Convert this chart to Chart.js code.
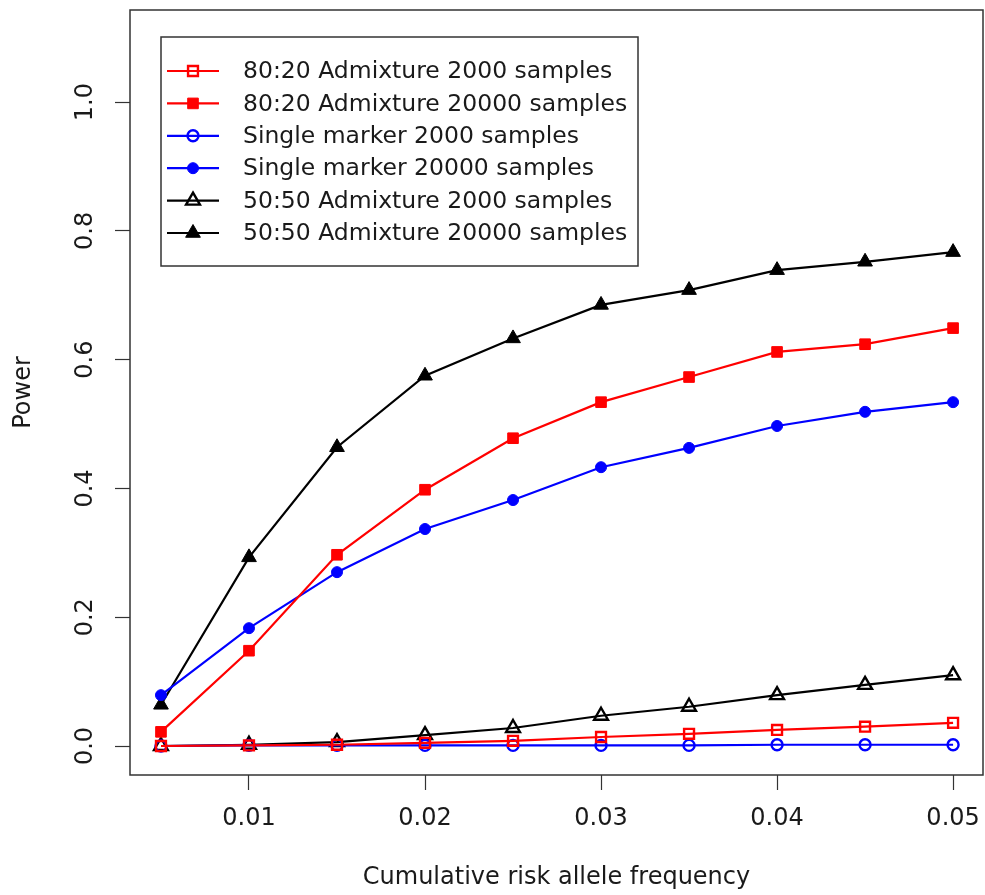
<!DOCTYPE html>
<html>
<head>
<meta charset="utf-8">
<script src="https://cdn.jsdelivr.net/npm/chart.js@4/dist/chart.umd.min.js"></script>
<style>
  html, body { margin: 0; padding: 0; background: #fff; }
</style>
</head>
<body>
<canvas id="powerChart" width="985" height="895"></canvas>
<script>
// risk allele frequencies on the x axis
const freq = [0.005, 0.01, 0.015, 0.02, 0.025, 0.03, 0.035, 0.04, 0.045, 0.05];

// power values
const admix8020Small = [0.000, 0.001, 0.002, 0.005, 0.008, 0.014, 0.019, 0.025, 0.030, 0.036];
const admix8020Large = [0.022, 0.148, 0.297, 0.398, 0.478, 0.534, 0.573, 0.612, 0.624, 0.649];
const singleSmall = [0.000, 0.001, 0.001, 0.001, 0.001, 0.001, 0.001, 0.002, 0.002, 0.002];
const singleLarge = [0.079, 0.183, 0.270, 0.337, 0.382, 0.433, 0.463, 0.497, 0.519, 0.534];
const admix5050Small = [0.000, 0.002, 0.006, 0.017, 0.028, 0.047, 0.061, 0.079, 0.095, 0.110];
const admix5050Large = [0.064, 0.293, 0.464, 0.575, 0.633, 0.685, 0.708, 0.739, 0.752, 0.767];

const seriesLabels = [
  '80:20 Admixture 2000 samples',
  '80:20 Admixture 20000 samples',
  'Single marker 2000 samples',
  'Single marker 20000 samples',
  '50:50 Admixture 2000 samples',
  '50:50 Admixture 20000 samples'
];

const xTicks = [0.01, 0.02, 0.03, 0.04, 0.05];
const yTicks = [0.0, 0.2, 0.4, 0.6, 0.8, 1.0];

const FONT = 'DejaVu Sans';
const TEXT = '#1a1a1a';

//turn one array into x/y points
function toPoints(values) {
  return values.map((v, i) => ({ x: freq[i], y: v }));
}

//one dataset, open or filled marker
function makeSeries(label, values, color, style, radius, open) {
  return {
    label: label,
    data: toPoints(values),
    borderColor: color,
    borderWidth: 2.2,
    pointStyle: style,
    pointRadius: radius,
    pointHoverRadius: radius,
    pointBackgroundColor: open ? 'rgba(0,0,0,0)' : color,
    pointBorderColor: color,
    pointBorderWidth: open ? 2.4 : 1,
    tension: 0
  };
}

const datasets = [
  makeSeries(seriesLabels[0], admix8020Small, '#ff0000', 'rect', 7, true),
  makeSeries(seriesLabels[1], admix8020Large, '#ff0000', 'rect', 7.5, false),
  makeSeries(seriesLabels[2], singleSmall, '#0000ff', 'circle', 5.5, true),
  makeSeries(seriesLabels[3], singleLarge, '#0000ff', 'circle', 5.5, false),
  makeSeries(seriesLabels[4], admix5050Small, '#000000', 'triangle', 8, true),
  makeSeries(seriesLabels[5], admix5050Large, '#000000', 'triangle', 8.5, false)
];

//fixed axis size, no extra room for overhanging labels
function fixSize(s, size) {
  if (s.isHorizontal()) s.height = size; else s.width = size;
  s.paddingLeft = 0;
  s.paddingRight = 0;
  s.paddingTop = 0;
  s.paddingBottom = 0;
}

//R style legend with a box, line and symbol
const boxLegend = {
  id: 'boxLegend',
  afterDraw(chart) {
    const ctx = chart.ctx;
    ctx.save();
    ctx.strokeStyle = '#333';
    ctx.lineWidth = 1.5;
    ctx.strokeRect(161, 37, 477, 229);
    chart.data.datasets.forEach((ds, i) => {
      const y = 71 + i * 32.4;
      ctx.strokeStyle = ds.borderColor;
      ctx.lineWidth = ds.borderWidth;
      ctx.beginPath();
      ctx.moveTo(167, y);
      ctx.lineTo(219, y);
      ctx.stroke();
      ctx.fillStyle = ds.pointBackgroundColor;
      ctx.strokeStyle = ds.pointBorderColor;
      ctx.lineWidth = ds.pointBorderWidth;
      Chart.helpers.drawPoint(ctx, {
        pointStyle: ds.pointStyle,
        radius: ds.pointRadius,
        borderWidth: ds.pointBorderWidth,
        rotation: 0
      }, 193, y);
      ctx.fillStyle = TEXT;
      ctx.font = '23.5px "' + FONT + '"';
      ctx.textBaseline = 'middle';
      ctx.textAlign = 'left';
      ctx.fillText(ds.label, 243, y + 1);
    });
    ctx.restore();
  }
};

//box round the plotting region
const plotBox = {
  id: 'plotBox',
  afterDraw(chart) {
    const a = chart.chartArea;
    const ctx = chart.ctx;
    ctx.save();
    ctx.strokeStyle = '#333';
    ctx.lineWidth = 1.5;
    ctx.strokeRect(a.left, a.top, a.right - a.left, a.bottom - a.top);
    ctx.restore();
  }
};

new Chart(document.getElementById('powerChart'), {
  type: 'line',
  data: { datasets: datasets },
  options: {
    responsive: false,
    animation: false,
    layout: { autoPadding: false, padding: { left: 0, top: 10, right: 2, bottom: 0 } },
    plugins: {
      legend: { display: false },
      tooltip: { enabled: false }
    },
    scales: {
      x: {
        type: 'linear',
        min: 0.00324,
        max: 0.0517,
        afterFit: (s) => fixSize(s, 120),
        afterBuildTicks: (s) => { s.ticks = xTicks.map(v => ({ value: v })); },
        border: { display: false },
        grid: {
          drawOnChartArea: false,
          drawTicks: true,
          tickLength: 15,
          tickColor: '#333',
          tickWidth: 1.2
        },
        ticks: {
          color: TEXT,
          font: { family: FONT, size: 24 },
          padding: 14,
          maxRotation: 0,
          callback: (v) => v.toFixed(2)
        },
        title: {
          display: true,
          text: 'Cumulative risk allele frequency',
          color: TEXT,
          font: { family: FONT, size: 24 },
          padding: { top: 0, bottom: 3 }
        }
      },
      y: {
        min: -0.045,
        max: 1.143,
        afterFit: (s) => fixSize(s, 130),
        afterBuildTicks: (s) => { s.ticks = yTicks.map(v => ({ value: v })); },
        border: { display: false },
        grid: {
          drawOnChartArea: false,
          drawTicks: true,
          tickLength: 15,
          tickColor: '#333',
          tickWidth: 1.2
        },
        ticks: {
          color: TEXT,
          font: { family: FONT, size: 24 },
          padding: 10,
          minRotation: 90,
          maxRotation: 90,
          crossAlign: 'center',
          callback: (v) => v.toFixed(1)
        },
        title: {
          display: true,
          text: 'Power',
          color: TEXT,
          font: { family: FONT, size: 24 },
          padding: { top: 9, bottom: 0 }
        }
      }
    }
  },
  plugins: [plotBox, boxLegend]
});
</script>
</body>
</html>
